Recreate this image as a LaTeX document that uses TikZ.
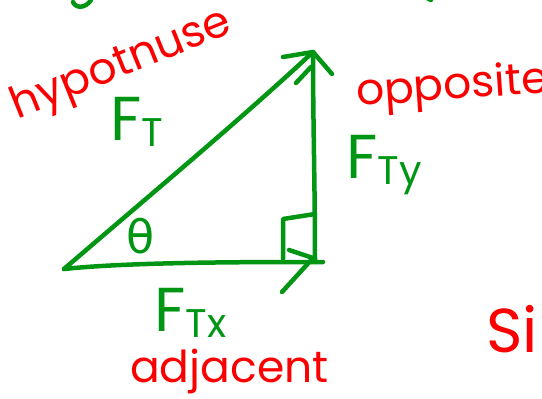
\documentclass[tikz,border=0pt]{standalone}
\usepackage{fontspec}
\setmainfont{Poppins}
\newfontfamily\greekfont{DejaVu Sans}
\usetikzlibrary{positioning}
\definecolor{penGreen}{RGB}{0,150,20}
\definecolor{penRed}{RGB}{250,0,0}
\newcommand{\Fsub}[1]{F\raisebox{-6pt}{\fontsize{40}{40}\selectfont #1}}

\begin{document}
\begin{tikzpicture}[x=1pt, y=-1pt,
  stroke/.style={draw=penGreen, line width=4.5pt, line cap=round, line join=round},
  redword/.style={text=penRed, font=\fontsize{44}{44}\selectfont, inner sep=0pt},
  force/.style={text=penGreen, font=\fontsize{62}{62}\selectfont, inner sep=0pt, anchor=base west}
]
\useasboundingbox (0,0) rectangle (542,399);
\clip (0,0) rectangle (542,399);

% triangle corners
\coordinate (left) at (64,269);
\coordinate (corner) at (315,260);
\coordinate (top) at (313,52);
\coordinate (tipx) at (313,258);

% sides
\draw[stroke] (left) .. controls (150,195) and (240,120) .. (top);
\draw[stroke] (corner) .. controls (315,190) and (313,120) .. (top);
\draw[stroke] (left) .. controls (130,262) and (250,262) .. (323,262);

% arrow heads
\draw[stroke] (283,57) -- (top) -- (332,74);
\draw[stroke] (296,83) -- (311,67);
\draw[stroke] (282,292) -- (tipx);
\draw[stroke] (289,250) -- (tipx);

% right angle mark
\draw[stroke] (283,259) -- (283,219) -- (315,214);

% angle
\node[text=penGreen, font=\greekfont\fontsize{46}{46}\selectfont, inner sep=0pt] (theta) at (141,236) {θ};

% labels
\node[redword, rotate=22] (hyp) at (122,66) {hypotnuse};
\node[redword, rotate=4, anchor=base west] (opp) at (357,106) {opposite};
\node[redword, anchor=base west] (adj) at (130,382) {adjacent};
\node[redword, font=\fontsize{62}{62}\selectfont, anchor=base west] (sine) at (486,352) {Si};

\node[force] (ft) at (110,140) {\Fsub{T}};
\node[force] (fty) at (346,178) {\Fsub{Ty}};
\node[force] (ftx) at (154,331) {\Fsub{Tx}};

% bits of writing cut off at the top
\draw[stroke] (73,2) .. controls (76,9) and (86,8) .. (91,0);
\draw[stroke] (427,-2) -- (431,0);
\end{tikzpicture}
\end{document}
